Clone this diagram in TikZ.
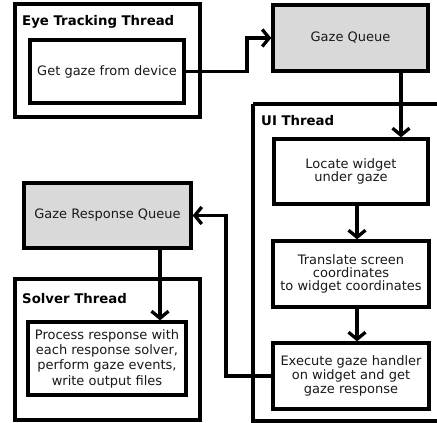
\documentclass[tikz,border=0pt]{standalone}
\usepackage{fontspec}
\setmainfont{DejaVu Sans}
\usetikzlibrary{arrows.meta}
\begin{document}
\begin{tikzpicture}[x=1pt,y=-1pt,
  box/.style={draw=black,line width=3.3pt,fill=white,inner sep=0pt,align=center,
    font=\fontsize{13}{13.5}\selectfont,text=black!90},
  queue/.style={box,fill=black!15},
  thread/.style={draw=black,line width=3.3pt,inner sep=0pt},
  title/.style={anchor=base west,inner sep=0pt,font=\fontsize{13.3}{14}\selectfont\bfseries},
  arr/.style={line width=3.3pt,-{Straight Barb[length=7pt,width=17pt,line width=3.3pt]}},
  ln/.style={line width=3.3pt}]
\useasboundingbox (0,0) rectangle (437,423);
% threads
\node[thread,minimum width=185pt,minimum height=113pt] (ett) at (107.5,60.5) {};
\node[title] (ettt) at (22,26) {Eye Tracking Thread};
\draw[ln] (253,104) -- (445,104) (253,104) -- (253,421) -- (445,421);
\coordinate (uitl) at (253,104);
\node[title] (uit) at (261,125) {UI Thread};
\node[thread,minimum width=185pt,minimum height=141pt] (st) at (107.5,349.5) {};
\node[title] (stt) at (22,303) {Solver Thread};
% boxes
\node[box,minimum width=154pt,minimum height=63pt] (get) at (107,71.5) {Get gaze from device};
\node[queue,minimum width=155pt,minimum height=66pt] (gq) at (350.5,38) {Gaze Queue};
\node[box,minimum width=154pt,minimum height=65pt,font=\fontsize{13}{12.7}\selectfont] (loc) at (351,171.5) {Locate widget\\under gaze};
\node[box,minimum width=156pt,minimum height=66pt,font=\fontsize{13}{13.3}\selectfont] (tr) at (351,274) {Translate screen\\coordinates\\to widget coordinates};
\node[box,minimum width=156pt,minimum height=66pt,font=\fontsize{13}{14.2}\selectfont] (ex) at (351,376) {Execute gaze handler\\on widget and get\\gaze response};
\node[queue,minimum width=167pt,minimum height=65pt] (grq) at (107.5,215.5) {Gaze Response Queue};
\node[box,minimum width=158pt,minimum height=73pt,font=\fontsize{13}{15.3}\selectfont] (pr) at (107,358.5) {Process response with\\each response solver,\\perform gaze events,\\write output files};
% connectors
\coordinate (c1) at (247,0);
\coordinate (c2) at (401,0);
\coordinate (c3) at (357,0);
\coordinate (c4) at (226,0);
\coordinate (c5) at (160,0);
\draw[arr] (get.east) -- (get.east -| c1) -- (c1 |- gq.west) -- (gq.west);
\draw[arr] (gq.south -| c2) -- (loc.north -| c2);
\draw[arr] (loc.south -| c3) -- (tr.north -| c3);
\draw[arr] (tr.south -| c3) -- (ex.north -| c3);
\draw[arr] (ex.west) -- (ex.west -| c4) -- (c4 |- grq.east) -- (grq.east);
\draw[arr] (grq.south -| c5) -- (pr.north -| c5);
\end{tikzpicture}
\end{document}
